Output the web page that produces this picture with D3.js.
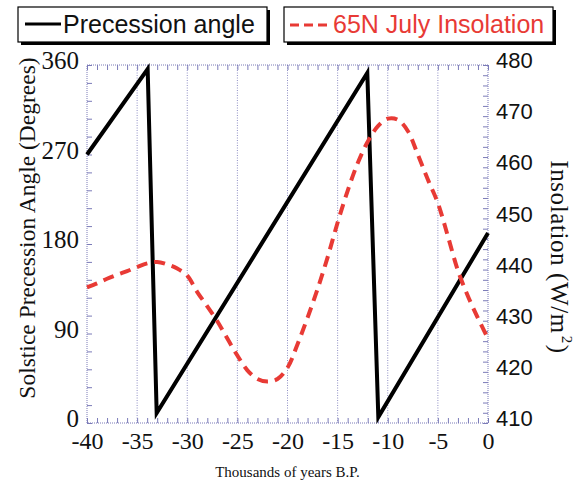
<!DOCTYPE html>
<html>
<head>
<meta charset="utf-8">
<script src="https://cdn.jsdelivr.net/npm/d3@7"></script>
<style>
  html, body { margin: 0; padding: 0; background: #fff; }
  svg { display: block; }
</style>
</head>
<body>
<svg id="chart" width="576" height="491"></svg>
<script>
// Solstice precession angle (degrees) vs. time, sawtooth with two wraps
const precessionYears = [-40, -33.95, -33.05, -12.04, -10.94, 0];
const precessionAngle = [270, 356, 10, 352, 6, 191];

// 65N July insolation (W/m^2), one value per thousand years
const insolationYears = [-40, -39, -38, -37, -36, -35, -34, -33, -32, -31, -30,
  -29, -28, -27, -26, -25, -24, -23, -22, -21, -20,
  -19, -18, -17, -16, -15, -14, -13, -12, -11, -10,
  -9, -8, -7, -6, -5, -4, -3, -2, -1, 0];
const insolation = [436.5, 437.3, 438.2, 439.0, 439.7, 440.5, 441.2, 441.5, 441.0, 440.2, 438.8,
  435.6, 432.8, 429.9, 426.5, 423.2, 420.3, 418.6, 418.1, 418.6, 420.8,
  425.4, 430.6, 436.2, 442.4, 449.2, 455.4, 460.8, 465.0, 468.0, 469.5,
  469.3, 467.1, 462.5, 457.6, 453.0, 446.5, 439.8, 434.8, 430.5, 426.5];

// Tick labels
const xTicks = [-40, -35, -30, -25, -20, -15, -10, -5, 0];
const leftTicks = [0, 90, 180, 270, 360];
const rightTicks = [410, 420, 430, 440, 450, 460, 470, 480];

const svg = d3.select("#chart");
const L = 87, R = 488, T = 65, B = 423;

const x = d3.scaleLinear().domain([-40, 0]).range([L, R]);
const yL = d3.scaleLinear().domain([0, 360]).range([B, T]);
const yR = d3.scaleLinear().domain([410, 480]).range([B, T]);

const frameColor = "#7b7bb8";
const serif = "'Liberation Serif', 'Times New Roman', serif";
const sans = "'Liberation Sans', Arial, sans-serif";

// vertical dotted grid
svg.append("g").selectAll("line")
  .data(xTicks.slice(1, -1))
  .join("line")
  .attr("x1", d => x(d)).attr("x2", d => x(d))
  .attr("y1", T).attr("y2", B)
  .attr("stroke", "#8f8fc4").attr("stroke-width", 1)
  .attr("stroke-dasharray", "1,1.5");

// dotted frame
svg.append("rect")
  .attr("x", L).attr("y", T).attr("width", R - L).attr("height", B - T)
  .attr("fill", "none").attr("stroke", frameColor).attr("stroke-width", 1)
  .attr("stroke-dasharray", "1,1");

function styleTicks(g) {
  g.select(".domain").remove();
  g.selectAll(".tick line").attr("stroke", frameColor).attr("stroke-width", 1);
}

// minor ticks (inward) on all four sides
const xMinor = d3.range(-40, 0.01, 1);
svg.append("g").attr("transform", `translate(0,${B})`)
  .call(d3.axisBottom(x).tickValues(xMinor).tickSize(-5).tickFormat(""))
  .call(styleTicks);
svg.append("g").attr("transform", `translate(0,${T})`)
  .call(d3.axisTop(x).tickValues(xMinor).tickSize(-5).tickFormat(""))
  .call(styleTicks);
svg.append("g").attr("transform", `translate(${L},0)`)
  .call(d3.axisLeft(yL).tickValues(d3.range(0, 361, 18)).tickSize(-5).tickFormat(""))
  .call(styleTicks);
svg.append("g").attr("transform", `translate(${R},0)`)
  .call(d3.axisRight(yR).tickValues(d3.range(410, 481, 2)).tickSize(-5).tickFormat(""))
  .call(styleTicks);

// major tick labels
const xAxis = svg.append("g").attr("transform", `translate(0,${B})`)
  .call(d3.axisBottom(x).tickValues(xTicks).tickSize(0).tickPadding(9).tickFormat(d => String(d)))
  .call(styleTicks);
xAxis.selectAll("text").attr("font-family", serif).attr("font-size", 24).attr("fill", "#111");

const leftAxis = svg.append("g").attr("transform", `translate(${L},0)`)
  .call(d3.axisLeft(yL).tickValues(leftTicks).tickSize(0).tickPadding(8))
  .call(styleTicks);
leftAxis.selectAll("text").attr("font-family", serif).attr("font-size", 25).attr("fill", "#111")
  .attr("dy", "0.15em");

const rightAxis = svg.append("g").attr("transform", `translate(${R},0)`)
  .call(d3.axisRight(yR).tickValues(rightTicks).tickSize(0).tickPadding(8))
  .call(styleTicks);
rightAxis.selectAll("text").attr("font-family", sans).attr("font-size", 22).attr("fill", "#111")
  .attr("dy", "0.12em");

// axis titles
svg.append("text")
  .attr("transform", `translate(35,228) rotate(-90)`)
  .attr("text-anchor", "middle")
  .attr("font-family", serif).attr("font-size", 23.5).attr("fill", "#111")
  .text("Solstice Precession Angle (Degrees)");

const rt = svg.append("text")
  .attr("transform", `translate(551,257) rotate(90)`)
  .attr("text-anchor", "middle")
  .attr("font-family", serif).attr("font-size", 25).attr("letter-spacing", 0.6).attr("fill", "#111");
rt.append("tspan").text("Insolation (W/m");
rt.append("tspan").attr("font-size", 15).attr("dy", -11).attr("dx", 2).text("2");
rt.append("tspan").attr("dy", 11).attr("dx", 1).text(")");

svg.append("text")
  .attr("x", (L + R) / 2).attr("y", 477)
  .attr("text-anchor", "middle")
  .attr("font-family", serif).attr("font-size", 15).attr("fill", "#111")
  .text("Thousands of years B.P.");

// data lines
const precLine = d3.line().x(d => x(d[0])).y(d => yL(d[1]));
svg.append("path")
  .datum(precessionYears.map((t, i) => [t, precessionAngle[i]]))
  .attr("d", precLine)
  .attr("fill", "none").attr("stroke", "#000").attr("stroke-width", 4)
  .attr("stroke-linejoin", "miter");

const insLine = d3.line().x(d => x(d[0])).y(d => yR(d[1])).curve(d3.curveCatmullRom);
svg.append("path")
  .datum(insolationYears.map((t, i) => [t, insolation[i]]))
  .attr("d", insLine)
  .attr("fill", "none").attr("stroke", "#e83a35").attr("stroke-width", 4)
  .attr("stroke-dasharray", "11,7");

// legends with drop shadow
function legendBox(x0, y0, w, h) {
  svg.append("rect").attr("x", x0 + 3).attr("y", y0 + 3).attr("width", w).attr("height", h).attr("fill", "#000");
  svg.append("rect").attr("x", x0).attr("y", y0).attr("width", w).attr("height", h)
    .attr("fill", "#fff").attr("stroke", "#000").attr("stroke-width", 1.2);
}
legendBox(18, 7, 249, 35);
svg.append("line").attr("x1", 25).attr("x2", 61).attr("y1", 24).attr("y2", 24)
  .attr("stroke", "#000").attr("stroke-width", 3);
svg.append("text").attr("x", 63).attr("y", 33)
  .attr("font-family", sans).attr("font-size", 25).attr("fill", "#111")
  .text("Precession angle");

legendBox(284, 7, 269, 35);
svg.append("line").attr("x1", 290).attr("x2", 332).attr("y1", 25).attr("y2", 25)
  .attr("stroke", "#e83a35").attr("stroke-width", 3).attr("stroke-dasharray", "9,5");
svg.append("text").attr("x", 333).attr("y", 33)
  .attr("font-family", sans).attr("font-size", 25).attr("fill", "#e83a35")
  .text("65N July Insolation");
</script>
</body>
</html>
